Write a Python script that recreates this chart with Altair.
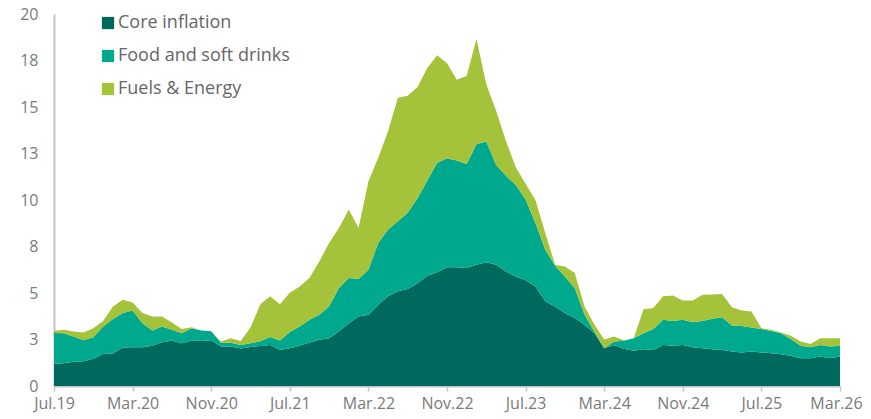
import altair as alt
import pandas as pd

# Monthly categories Jul.19 .. Mar.26
MONTH_NAMES = ["Jan", "Feb", "Mar", "Apr", "May", "Jun", "Jul", "Aug", "Sep", "Oct", "Nov", "Dec"]
months = []
y, m = 2019, 7
while (y, m) <= (2026, 3):
    months.append(f"{MONTH_NAMES[m - 1]}.{str(y)[2:]}")
    m += 1
    if m > 12:
        m, y = 1, y + 1

tick_labels = ["Jul.19", "Mar.20", "Nov.20", "Jul.21", "Mar.22", "Nov.22",
               "Jul.23", "Mar.24", "Nov.24", "Jul.25", "Mar.26"]

series_names = ["Core inflation", "Food and soft drinks", "Fuels & Energy"]
series_colors = ["#00695d", "#00a98d", "#a5c33a"]

core = [1.20, 1.22, 1.31, 1.33, 1.46, 1.72, 1.75, 2.07, 2.08, 2.08,
        2.17, 2.35, 2.45, 2.30, 2.44, 2.42, 2.46, 2.13, 2.12, 2.02,
        2.10, 2.15, 2.20, 1.94, 2.03, 2.16, 2.34, 2.48, 2.57, 2.93,
        3.38, 3.74, 3.83, 4.37, 4.82, 5.09, 5.21, 5.53, 5.93, 6.11,
        6.38, 6.38, 6.34, 6.52, 6.65, 6.52, 6.16, 5.89, 5.68, 5.35,
        4.55, 4.28, 3.92, 3.65, 3.29, 2.84, 2.03, 2.20, 2.00, 1.90,
        1.98, 1.94, 2.21, 2.16, 2.21, 2.08, 2.03, 1.98, 1.94, 1.85,
        1.80, 1.85, 1.80, 1.76, 1.71, 1.62, 1.49, 1.49, 1.58, 1.49,
        1.58]

food = [1.65, 1.62, 1.35, 1.13, 1.16, 1.48, 1.85, 1.85, 1.98, 1.30,
        0.81, 0.85, 0.57, 0.54, 0.67, 0.56, 0.49, 0.20, 0.21, 0.18,
        0.20, 0.25, 0.44, 0.51, 0.87, 1.04, 1.22, 1.35, 1.71, 2.34,
        2.42, 2.01, 2.42, 3.32, 3.59, 3.77, 4.10, 4.57, 5.12, 5.89,
        5.87, 5.74, 5.59, 6.48, 6.50, 5.38, 5.14, 4.91, 4.35, 3.42,
        2.78, 2.19, 1.97, 1.62, 0.54, 0.09, 0.00, 0.19, 0.43, 0.67,
        0.86, 1.12, 1.35, 1.34, 1.35, 1.35, 1.47, 1.63, 1.76, 1.40,
        1.43, 1.29, 1.26, 1.20, 1.13, 0.91, 0.67, 0.59, 0.63, 0.63,
        0.58]

fuel = [0.11, 0.18, 0.27, 0.41, 0.49, 0.30, 0.68, 0.72, 0.43, 0.54,
        0.76, 0.54, 0.39, 0.22, 0.05, 0.00, 0.00, 0.06, 0.24, 0.22,
        0.85, 2.00, 2.19, 1.95, 2.12, 2.15, 2.24, 2.87, 3.41, 3.23,
        3.69, 2.75, 4.75, 4.58, 5.29, 6.64, 6.29, 5.97, 6.05, 5.78,
        5.10, 4.34, 4.73, 5.65, 3.07, 2.90, 1.87, 0.96, 0.85, 1.23,
        0.90, 0.05, 0.54, 0.80, 0.45, 0.37, 0.47, 0.27, 0.03, 0.00,
        1.29, 1.13, 1.26, 1.37, 1.04, 1.17, 1.41, 1.31, 1.24, 0.99,
        0.83, 0.87, 0.05, 0.06, 0.03, 0.17, 0.23, 0.18, 0.36, 0.45,
        0.41]

rows = []
for k, (name, vals) in enumerate(zip(series_names, [core, food, fuel])):
    for mo, v in zip(months, vals):
        rows.append({"month": mo, "series": name, "value": v, "k": k})
df = pd.DataFrame(rows)

FONT = "Open Sans"

chart = alt.Chart(df).mark_area(interpolate="linear", strokeWidth=0).encode(
    x=alt.X("month:O", sort=months, title=None,
            scale=alt.Scale(type="point", padding=0),
            axis=alt.Axis(values=tick_labels, labelAngle=0, labelFont=FONT,
                          labelFontSize=16, labelColor="#7a7a7a", labelPadding=4,
                          labelOffset={"condition": {"test": "datum.value == 'Mar.26'", "value": -4},
                                       "value": 0},
                          tickColor="#c4c4c4", tickSize=5, tickWidth=1.5,
                          domainColor="#c4c4c4", domainWidth=2, grid=False)),
    y=alt.Y("value:Q", stack="zero", title=None,
            scale=alt.Scale(domain=[0, 20], nice=False),
            axis=alt.Axis(values=[0, 2.5, 5, 7.5, 10, 12.5, 15, 17.5, 20],
                          format=".0f", labelFont=FONT, labelFontSize=16,
                          labelColor="#7a7a7a", labelPadding=16, ticks=False,
                          domainColor="#c4c4c4", domainWidth=2, grid=False)),
    color=alt.Color("series:N", sort=series_names,
                    scale=alt.Scale(domain=series_names, range=series_colors),
                    legend=alt.Legend(title=None, orient="none", legendX=45, legendY=0,
                                      symbolType="square", symbolSize=150,
                                      symbolStrokeWidth=0, labelFont=FONT,
                                      labelFontSize=18, labelColor="#666666",
                                      labelOffset=1, labelLimit=0,
                                      rowPadding=15, padding=0)),
    order=alt.Order("k:Q", sort="ascending"),
).properties(
    width=786, height=372,
    autosize=alt.AutoSizeParams(type="none"),
    padding={"left": 46, "top": 6, "right": 23, "bottom": 30},
).configure_view(stroke=None)

chart.save("out.html", embed_options={"renderer": "svg", "actions": False})
